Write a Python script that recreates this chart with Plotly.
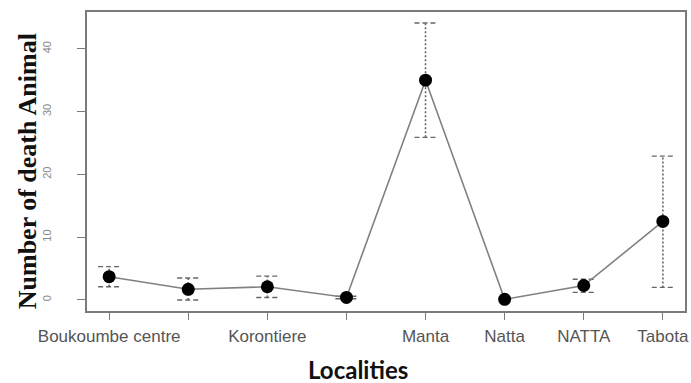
import plotly.graph_objects as go

# Mean number of dead animals per locality, with lower/upper bounds
tick_labels = ["Boukoumbe centre", "", "Korontiere", "", "Manta", "Natta", "NATTA", "Tabota"]
positions = [1, 2, 3, 4, 5, 6, 7, 8]
mean_deaths = [3.7, 1.7, 2.1, 0.4, 35.0, 0.1, 2.3, 12.5]
lower_bound = [2.1, 0.0, 0.4, 0.2, 25.9, 0.1, 1.2, 2.0]
upper_bound = [5.3, 3.5, 3.8, 0.6, 44.1, 0.1, 3.3, 22.9]

AXIS_GREY = "#7a7a7a"
BAR_GREY = "#666666"
CAP_HALF = 0.14  # half width of the error-bar caps, in x units

# vertical dotted segments and dashed caps, built from the bound arrays
vx, vy, cx, cy = [], [], [], []
for x, lo, hi in zip(positions, lower_bound, upper_bound):
    if hi - lo <= 0:
        continue
    vx += [x, x, None]
    vy += [lo, hi, None]
    for yv in (lo, hi):
        cx += [x - CAP_HALF, x + CAP_HALF, None]
        cy += [yv, yv, None]

fig = go.Figure()
fig.add_trace(go.Scatter(x=vx, y=vy, mode="lines",
                         line=dict(color=BAR_GREY, width=1.6, dash="2px,2px"),
                         hoverinfo="skip", showlegend=False))
fig.add_trace(go.Scatter(x=cx, y=cy, mode="lines",
                         line=dict(color=BAR_GREY, width=1.4, dash="5px,3px"),
                         hoverinfo="skip", showlegend=False))
fig.add_trace(go.Scatter(x=positions, y=mean_deaths, mode="lines+markers",
                         line=dict(color="#808080", width=1.6),
                         marker=dict(color="black", size=13),
                         showlegend=False))

fig.update_layout(
    width=691, height=383, autosize=False,
    margin=dict(l=87, r=2, t=12, b=72),
    paper_bgcolor="white", plot_bgcolor="white",
    xaxis=dict(range=[0.72, 8.28], tickmode="array", tickvals=positions,
               ticktext=tick_labels, showgrid=False, zeroline=False,
               showline=True, mirror=True, linecolor=AXIS_GREY, linewidth=1.5,
               ticks="outside", ticklen=7, tickcolor=AXIS_GREY, tickwidth=1.2,
               ticklabelstandoff=2,
               tickfont=dict(family="Liberation Sans", size=17, color="#555555")),
    yaxis=dict(range=[-1.76, 45.86], tickvals=[0, 10, 20, 30, 40],
               showgrid=False, zeroline=False,
               showline=True, mirror=True, linecolor=AXIS_GREY, linewidth=1.5,
               ticks="outside", ticklen=8, tickcolor=AXIS_GREY, tickwidth=1.2,
               tickangle=-90, ticklabelstandoff=22,
               tickfont=dict(family="Liberation Sans", size=11, color="#888888")),
    annotations=[
        dict(text="<b>Number of death Animal</b>", xref="paper", yref="paper",
             x=-0.1, y=0.468, xanchor="center", yanchor="middle",
             textangle=-90, showarrow=False,
             font=dict(family="Liberation Serif", size=26, color="#111111")),
        dict(text="<b>Localities</b>", xref="paper", yref="paper",
             x=0.4535, y=-0.194, xanchor="center", yanchor="middle",
             showarrow=False,
             font=dict(family="Lato", size=24, color="#111111")),
    ],
)

fig.write_html("out.html")
